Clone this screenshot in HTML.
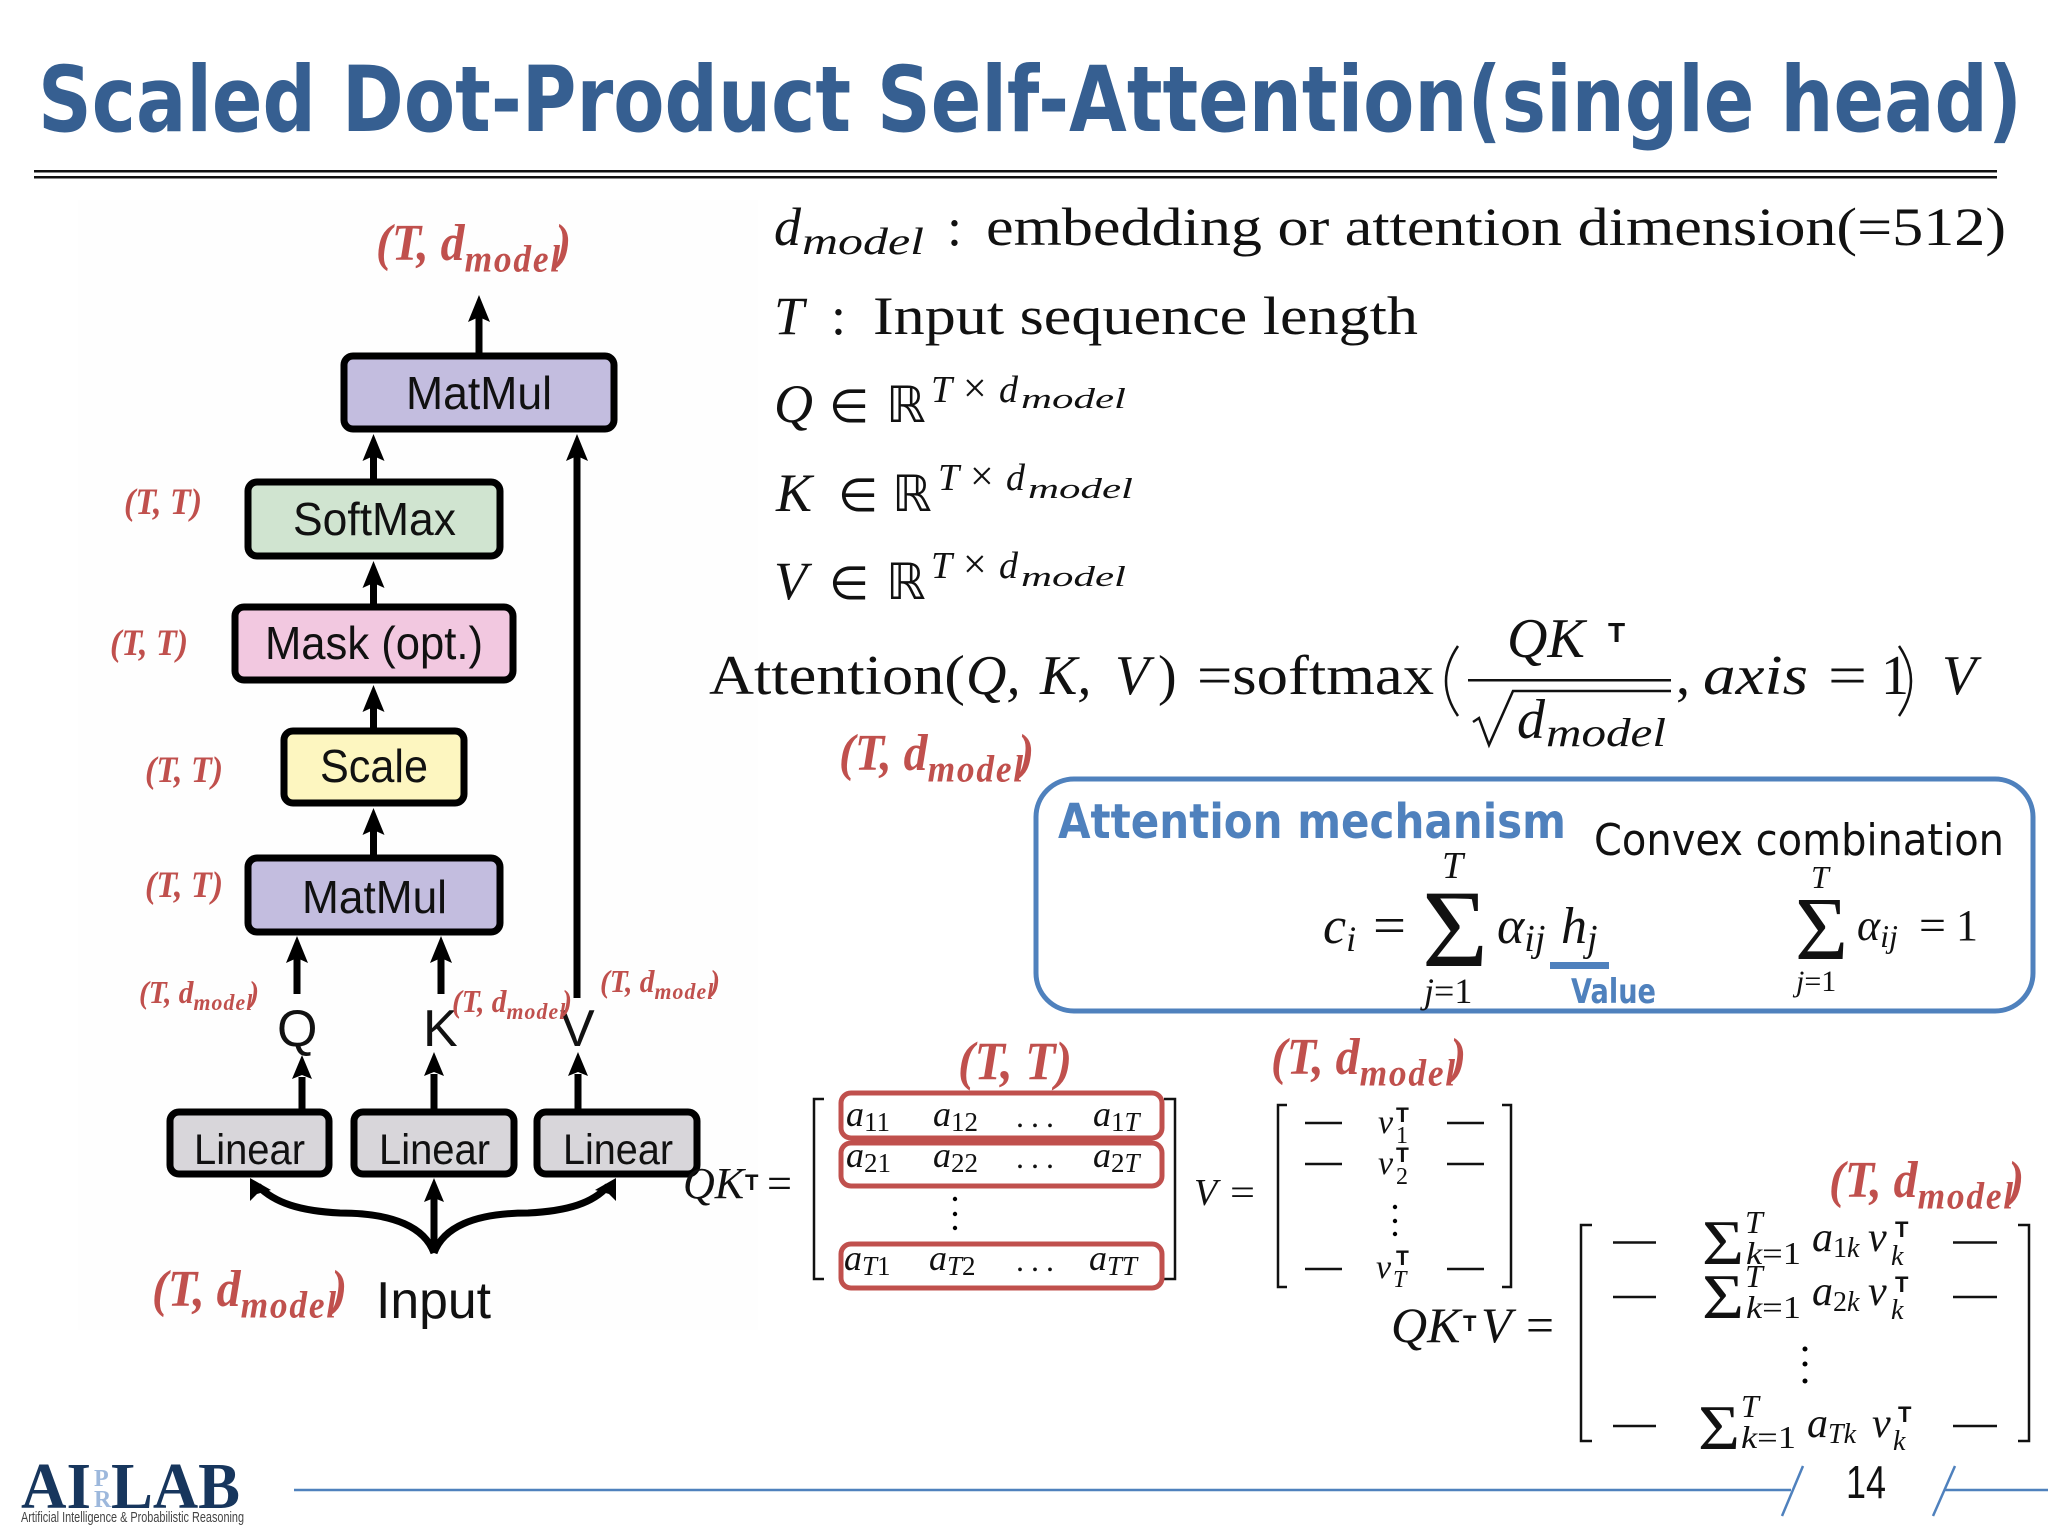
<!DOCTYPE html>
<html>
<head>
<meta charset="utf-8">
<style>
html,body{margin:0;padding:0;background:#fff;width:2048px;height:1536px;overflow:hidden}
svg{display:block}
.m{font-family:"Liberation Serif",serif;font-style:italic;fill:#111}
.t{font-family:"Liberation Serif",serif;fill:#111}
.d{font-family:"Liberation Serif","DejaVu Sans",sans-serif;fill:#111}
.b{font-family:"Liberation Sans",sans-serif;fill:#111}
.tp{font-family:"Liberation Sans",sans-serif;font-weight:bold;fill:#111}
.r{font-family:"Liberation Serif",serif;font-style:italic;font-weight:bold;fill:#c0504d}
.s{font-size:.74em;letter-spacing:.05em}
.box{stroke:#000;stroke-width:7}
.rr{fill:none;stroke:#c0504d;stroke-width:5}
.br{fill:none;stroke:#111;stroke-width:2.5}
.dash{stroke:#111;stroke-width:2.5}
.ar{stroke:#000;stroke-width:7;fill:none}
</style>
</head>
<body>
<svg xmlns="http://www.w3.org/2000/svg" width="2048" height="1536" viewBox="0 0 2048 1536">
<rect width="2048" height="1536" fill="#fff"/>
<rect x="78" y="200" width="680" height="1130" fill="#fefefe"/>

<!-- Title -->
<text x="38" y="131" textLength="1984" lengthAdjust="spacingAndGlyphs" font-size="91" font-family="'DejaVu Sans',sans-serif" font-weight="bold" fill="#365f91">Scaled Dot-Product Self-Attention(single head)</text>
<rect x="34" y="170" width="1963" height="2.5" fill="#111"/>
<rect x="34" y="176" width="1963" height="2.5" fill="#111"/>

<!-- Diagram boxes -->
<rect class="box" x="344" y="356" width="270" height="73" rx="9" fill="#c3bddf"/>
<rect class="box" x="248" y="482" width="252" height="74" rx="9" fill="#d0e4d0"/>
<rect class="box" x="235" y="607" width="278" height="73" rx="9" fill="#f2c8e0"/>
<rect class="box" x="284" y="731" width="180" height="72" rx="9" fill="#fdf6c0"/>
<rect class="box" x="248" y="858" width="252" height="74" rx="9" fill="#c3bddf"/>
<rect class="box" x="170" y="1112" width="159" height="62" rx="9" fill="#d8d6da"/>
<rect class="box" x="354" y="1112" width="160" height="62" rx="9" fill="#d8d6da"/>
<rect class="box" x="537" y="1112" width="160" height="62" rx="9" fill="#d8d6da"/>

<text class="b" x="406" y="409" font-size="46" textLength="146" lengthAdjust="spacingAndGlyphs">MatMul</text>
<text class="b" x="293" y="535" font-size="46" textLength="163" lengthAdjust="spacingAndGlyphs">SoftMax</text>
<text class="b" x="265" y="659" font-size="46" textLength="218" lengthAdjust="spacingAndGlyphs">Mask (opt.)</text>
<text class="b" x="320" y="782" font-size="46" textLength="108" lengthAdjust="spacingAndGlyphs">Scale</text>
<text class="b" x="302" y="913" font-size="46" textLength="145" lengthAdjust="spacingAndGlyphs">MatMul</text>
<text class="b" x="194" y="1164" font-size="43" textLength="111" lengthAdjust="spacingAndGlyphs">Linear</text>
<text class="b" x="379" y="1164" font-size="43" textLength="111" lengthAdjust="spacingAndGlyphs">Linear</text>
<text class="b" x="563" y="1164" font-size="43" textLength="110" lengthAdjust="spacingAndGlyphs">Linear</text>
<text class="b" x="277" y="1046" font-size="52">Q</text>
<text class="b" x="423" y="1046" font-size="52">K</text>
<text class="b" x="560" y="1046" font-size="52">V</text>
<text class="b" x="376" y="1318" font-size="52" textLength="115" lengthAdjust="spacingAndGlyphs">Input</text>

<!-- Arrows -->
<path class="ar" d="M479 353V315M373.500 479V455M373.500 604V582M373.500 728V706M373.500 855V829M577 998V455M297 994V957M441 994V957M302 1109V1077M434 1109V1074M578 1109V1074M434 1253V1198"/>
<path d="M479 295l-11 27 11-5 11 5zM373.500 434l-11 27 11-5 11 5zM373.500 561l-11 27 11-5 11 5zM373.500 685l-11 27 11-5 11 5zM373.500 808l-11 27 11-5 11 5zM577 434l-11 27 11-5 11 5zM297 936l-11 27 11-5 11 5zM441 936l-11 27 11-5 11 5zM302 1055l-10 24 10-4 10 4zM434 1052l-10 24 10-4 10 4zM578 1052l-10 24 10-4 10 4zM434 1178l-10 24 10-4 10 4z"/>
<path class="ar" d="M434 1253C425 1228 395 1213 340 1213C300 1211 275 1203 258 1186M434 1253C443 1228 473 1213 528 1213C568 1211 593 1203 608 1186"/>
<path d="M250 1178L250 1201L257 1194L271 1190zM616 1178L616 1201L609 1194L595 1190z"/>

<!-- Red labels -->
<g transform="translate(376,260) scale(.92,1)"><text class="r" font-size="52">(T, d<tspan class="s" dy=".3em">model</tspan><tspan dy="-.222em" dx="-.14em">)</tspan></text></g>
<g transform="translate(839,770) scale(.92,1)"><text class="r" font-size="52">(T, d<tspan class="s" dy=".3em">model</tspan><tspan dy="-.222em" dx="-.14em">)</tspan></text></g>
<g transform="translate(152,1306) scale(.92,1)"><text class="r" font-size="52">(T, d<tspan class="s" dy=".3em">model</tspan><tspan dy="-.222em" dx="-.14em">)</tspan></text></g>
<g transform="translate(1271,1074) scale(.92,1)"><text class="r" font-size="52">(T, d<tspan class="s" dy=".3em">model</tspan><tspan dy="-.222em" dx="-.14em">)</tspan></text></g>
<g transform="translate(1829,1197) scale(.92,1)"><text class="r" font-size="52">(T, d<tspan class="s" dy=".3em">model</tspan><tspan dy="-.222em" dx="-.14em">)</tspan></text></g>
<g transform="translate(139,1003) scale(.92,1)"><text class="r" font-size="32">(T, d<tspan class="s" dy=".3em">model</tspan><tspan dy="-.222em" dx="-.14em">)</tspan></text></g>
<g transform="translate(452,1012) scale(.92,1)"><text class="r" font-size="32">(T, d<tspan class="s" dy=".3em">model</tspan><tspan dy="-.222em" dx="-.14em">)</tspan></text></g>
<g transform="translate(600,992) scale(.92,1)"><text class="r" font-size="32">(T, d<tspan class="s" dy=".3em">model</tspan><tspan dy="-.222em" dx="-.14em">)</tspan></text></g>
<g transform="translate(124,514) scale(.92,1)"><text class="r" font-size="37">(T, T)</text></g>
<g transform="translate(110,655) scale(.92,1)"><text class="r" font-size="37">(T, T)</text></g>
<g transform="translate(145,782) scale(.92,1)"><text class="r" font-size="37">(T, T)</text></g>
<g transform="translate(145,897) scale(.92,1)"><text class="r" font-size="37">(T, T)</text></g>
<g transform="translate(958,1079) scale(.92,1)"><text class="r" font-size="54">(T, T)</text></g>

<!-- Definitions -->
<text class="m" x="774" y="245" font-size="54">d</text>
<text class="m" x="802" y="254" font-size="38" textLength="122" lengthAdjust="spacingAndGlyphs">model</text>
<text class="t" x="947" y="245" font-size="54">:</text>
<text class="t" x="986" y="245" font-size="54" textLength="1020" lengthAdjust="spacingAndGlyphs">embedding or attention dimension(=512)</text>
<text class="m" x="774" y="334" font-size="54">T</text>
<text class="t" x="831" y="334" font-size="54">:</text>
<text class="t" x="873" y="334" font-size="54" textLength="545" lengthAdjust="spacingAndGlyphs">Input sequence length</text>

<text class="m" x="774" y="422" font-size="54">Q</text>
<text class="d" x="829" y="422" font-size="46">∈</text>
<text class="d" x="886" y="422" font-size="50">ℝ</text>
<text class="m" x="931" y="402" font-size="38">T</text>
<text class="d" x="963" y="402" font-size="42">×</text>
<text class="m" x="999" y="402" font-size="38">d</text>
<text class="m" x="1021" y="408" font-size="28" textLength="105" lengthAdjust="spacingAndGlyphs">model</text>

<text class="m" x="776" y="511" font-size="54">K</text>
<text class="d" x="838" y="511" font-size="46">∈</text>
<text class="d" x="892" y="511" font-size="50">ℝ</text>
<text class="m" x="938" y="490" font-size="38">T</text>
<text class="d" x="970" y="490" font-size="42">×</text>
<text class="m" x="1006" y="490" font-size="38">d</text>
<text class="m" x="1028" y="498" font-size="28" textLength="105" lengthAdjust="spacingAndGlyphs">model</text>

<text class="m" x="774" y="599" font-size="54">V</text>
<text class="d" x="829" y="599" font-size="46">∈</text>
<text class="d" x="886" y="599" font-size="50">ℝ</text>
<text class="m" x="931" y="578" font-size="38">T</text>
<text class="d" x="963" y="578" font-size="42">×</text>
<text class="m" x="999" y="578" font-size="38">d</text>
<text class="m" x="1021" y="586" font-size="28" textLength="105" lengthAdjust="spacingAndGlyphs">model</text>

<!-- Attention formula -->
<text class="t" x="709" y="694" font-size="56" textLength="256" lengthAdjust="spacingAndGlyphs">Attention(</text>
<text class="m" x="966" y="694" font-size="56">Q,</text>
<text class="m" x="1040" y="694" font-size="56">K,</text>
<text class="m" x="1115" y="694" font-size="56">V</text>
<text class="t" x="1158" y="694" font-size="56">)</text>
<text class="t" x="1197" y="694" font-size="56" textLength="237" lengthAdjust="spacingAndGlyphs">=softmax</text>
<path d="M1458 646Q1434 681 1458 716" fill="none" stroke="#111" stroke-width="2.500"/>
<text class="m" x="1507" y="657" font-size="56">QK</text>
<text class="tp" x="1608" y="642" font-size="28">T</text>
<rect x="1468" y="679" width="203" height="2.500" fill="#111"/>
<path d="M1473 722l6-4 10 27 24-54h158" fill="none" stroke="#111" stroke-width="2.500"/>
<text class="m" x="1517" y="738" font-size="56">d</text>
<text class="m" x="1546" y="746" font-size="40" textLength="120" lengthAdjust="spacingAndGlyphs">model</text>
<text class="t" x="1676" y="694" font-size="56">,</text>
<text class="m" x="1703" y="694" font-size="56" textLength="105" lengthAdjust="spacingAndGlyphs">axis</text>
<text class="t" x="1828" y="694" font-size="56" textLength="39" lengthAdjust="spacingAndGlyphs">=</text>
<text class="t" x="1881" y="694" font-size="56">1</text>
<path d="M1899 646Q1923 681 1899 716" fill="none" stroke="#111" stroke-width="2.500"/>
<text class="m" x="1942" y="694" font-size="56">V</text>

<!-- Blue box -->
<rect x="1036" y="779" width="997" height="232" rx="38" fill="none" stroke="#4f81bd" stroke-width="5"/>
<text x="1058" y="838" font-size="48" font-family="'DejaVu Sans',sans-serif" font-weight="bold" fill="#4f81bd" textLength="508" lengthAdjust="spacingAndGlyphs">Attention mechanism</text>
<text x="1594" y="855" font-size="44" font-family="'DejaVu Sans',sans-serif" fill="#111" textLength="410" lengthAdjust="spacingAndGlyphs">Convex combination</text>
<text class="m" x="1442" y="878" font-size="38">T</text>
<text class="m" x="1323" y="943" font-size="52">c<tspan font-size="36" dy="8">i</tspan></text>
<text class="t" x="1373" y="943" font-size="52" textLength="33" lengthAdjust="spacingAndGlyphs">=</text>
<text class="t" x="1422" y="966" font-size="110" textLength="66" lengthAdjust="spacingAndGlyphs">Σ</text>
<text class="m" x="1497" y="943" font-size="52">α<tspan font-size="38" dy="8">ij</tspan></text>
<text class="m" x="1561" y="943" font-size="52">h<tspan font-size="38" dy="8">j</tspan></text>
<text class="m" x="1424" y="1003" font-size="36">j<tspan class="t" font-style="normal">=1</tspan></text>
<rect x="1550" y="962" width="59" height="7" fill="#4f81bd"/>
<text x="1571" y="1003" font-size="34" font-family="'DejaVu Sans',sans-serif" font-weight="bold" fill="#4f81bd" textLength="85" lengthAdjust="spacingAndGlyphs">Value</text>
<text class="m" x="1811" y="888" font-size="32">T</text>
<text class="t" x="1795" y="959" font-size="90" textLength="53" lengthAdjust="spacingAndGlyphs">Σ</text>
<text class="m" x="1857" y="940" font-size="44">α<tspan font-size="32" dy="7">ij</tspan></text>
<text class="t" x="1919" y="940" font-size="44" textLength="27" lengthAdjust="spacingAndGlyphs">=</text>
<text class="t" x="1956" y="940" font-size="44">1</text>
<text class="m" x="1796" y="991" font-size="30">j<tspan class="t" font-style="normal">=1</tspan></text>

<!-- QK^T matrix -->
<text class="m" x="683" y="1198" font-size="44">QK</text>
<text class="tp" x="745" y="1190" font-size="22">T</text>
<text class="t" x="767" y="1198" font-size="44" textLength="25" lengthAdjust="spacingAndGlyphs">=</text>
<path class="br" d="M824 1099H814V1279H824M1164 1099H1175V1279H1164"/>
<rect class="rr" x="841" y="1093" width="321" height="45" rx="10"/>
<rect class="rr" x="841" y="1143" width="321" height="43" rx="10"/>
<rect class="rr" x="841" y="1244" width="321" height="44" rx="10"/>
<text class="m" x="846" y="1126" font-size="36">a<tspan font-size="27" font-style="normal" dy="5">11</tspan></text>
<text class="m" x="933" y="1126" font-size="36">a<tspan font-size="27" font-style="normal" dy="5">12</tspan></text>
<text class="t" x="1016" y="1127" font-size="32" letter-spacing="7">...</text>
<text class="m" x="1093" y="1126" font-size="36">a<tspan font-size="27" font-style="normal" dy="5">1</tspan><tspan font-size="27">T</tspan></text>
<text class="m" x="846" y="1167" font-size="36">a<tspan font-size="27" font-style="normal" dy="5">21</tspan></text>
<text class="m" x="933" y="1167" font-size="36">a<tspan font-size="27" font-style="normal" dy="5">22</tspan></text>
<text class="t" x="1016" y="1168" font-size="32" letter-spacing="7">...</text>
<text class="m" x="1093" y="1167" font-size="36">a<tspan font-size="27" font-style="normal" dy="5">2</tspan><tspan font-size="27">T</tspan></text>
<circle cx="955" cy="1199" r="2.200"/><circle cx="955" cy="1214" r="2.200"/><circle cx="955" cy="1228" r="2.200"/>
<text class="m" x="844" y="1270" font-size="36">a<tspan font-size="27" dy="5">T</tspan><tspan font-size="27" font-style="normal">1</tspan></text>
<text class="m" x="929" y="1270" font-size="36">a<tspan font-size="27" dy="5">T</tspan><tspan font-size="27" font-style="normal">2</tspan></text>
<text class="t" x="1016" y="1271" font-size="32" letter-spacing="7">...</text>
<text class="m" x="1089" y="1270" font-size="36">a<tspan font-size="27" dy="5">TT</tspan></text>

<!-- V matrix -->
<text class="m" x="1194" y="1205" font-size="38">V</text>
<text class="t" x="1230" y="1205" font-size="38" textLength="25" lengthAdjust="spacingAndGlyphs">=</text>
<path class="br" d="M1287 1105H1278V1287H1287M1502 1105H1511V1287H1502"/>
<path class="dash" d="M1305 1123H1342M1447 1123H1484M1305 1164H1342M1447 1164H1484M1305 1269H1342M1447 1269H1484"/>
<text class="m" x="1378" y="1133" font-size="34">v</text><text class="tp" x="1396" y="1122" font-size="21">T</text><text class="t" x="1396" y="1143" font-size="24">1</text>
<text class="m" x="1378" y="1174" font-size="34">v</text><text class="tp" x="1396" y="1162" font-size="21">T</text><text class="t" x="1396" y="1184" font-size="24">2</text>
<circle cx="1395" cy="1207" r="2.200"/><circle cx="1395" cy="1221" r="2.200"/><circle cx="1395" cy="1234" r="2.200"/>
<text class="m" x="1376" y="1278" font-size="34">v</text><text class="tp" x="1396" y="1265" font-size="21">T</text><text class="m" x="1393" y="1287" font-size="24">T</text>

<!-- Result -->
<text class="m" x="1391" y="1342" font-size="50">QK</text>
<text class="tp" x="1463" y="1331" font-size="22">T</text>
<text class="m" x="1481" y="1342" font-size="50">V</text>
<text class="t" x="1526" y="1342" font-size="50" textLength="28" lengthAdjust="spacingAndGlyphs">=</text>
<path class="br" d="M1592 1225H1581V1441H1592M2018 1225H2029V1441H2018"/>
<path class="dash" d="M1613 1242.500H1656M1953 1242.500H1997M1613 1297H1656M1953 1297H1997M1613 1426H1656M1953 1426H1997"/>

<text class="t" x="1702" y="1264" font-size="64" textLength="42" lengthAdjust="spacingAndGlyphs">Σ</text>
<text class="m" x="1745" y="1233" font-size="32">T</text>
<text class="m" x="1746" y="1264" font-size="32" textLength="55" lengthAdjust="spacingAndGlyphs">k<tspan class="t" font-style="normal">=1</tspan></text>
<text class="m" x="1812" y="1251" font-size="42">a<tspan font-size="28" font-style="normal" dy="6">1</tspan><tspan font-size="28">k</tspan></text>
<text class="m" x="1868" y="1251" font-size="42">v</text>
<text class="tp" x="1895" y="1237" font-size="22">T</text>
<text class="m" x="1891" y="1265" font-size="28">k</text>

<text class="t" x="1702" y="1318" font-size="64" textLength="42" lengthAdjust="spacingAndGlyphs">Σ</text>
<text class="m" x="1745" y="1287" font-size="32">T</text>
<text class="m" x="1746" y="1318" font-size="32" textLength="55" lengthAdjust="spacingAndGlyphs">k<tspan class="t" font-style="normal">=1</tspan></text>
<text class="m" x="1812" y="1305" font-size="42">a<tspan font-size="28" font-style="normal" dy="6">2</tspan><tspan font-size="28">k</tspan></text>
<text class="m" x="1868" y="1305" font-size="42">v</text>
<text class="tp" x="1895" y="1292" font-size="22">T</text>
<text class="m" x="1891" y="1319" font-size="28">k</text>

<circle cx="1805" cy="1349" r="2.500"/><circle cx="1805" cy="1364" r="2.500"/><circle cx="1805" cy="1381" r="2.500"/>

<text class="t" x="1698" y="1449" font-size="64" textLength="42" lengthAdjust="spacingAndGlyphs">Σ</text>
<text class="m" x="1741" y="1417" font-size="32">T</text>
<text class="m" x="1741" y="1448" font-size="32" textLength="55" lengthAdjust="spacingAndGlyphs">k<tspan class="t" font-style="normal">=1</tspan></text>
<text class="m" x="1807" y="1437" font-size="42">a<tspan font-size="28" dy="6">Tk</tspan></text>
<text class="m" x="1872" y="1437" font-size="42">v</text>
<text class="tp" x="1898" y="1422" font-size="22">T</text>
<text class="m" x="1893" y="1450" font-size="28">k</text>

<!-- Footer -->
<path d="M294 1490H1791M1803 1466L1782 1516M1955 1466L1933 1516M1944 1490H2048" fill="none" stroke="#4f81bd" stroke-width="2.500"/>
<text class="b" x="1846" y="1498" font-size="46" textLength="40" lengthAdjust="spacingAndGlyphs">14</text>
<text x="21" y="1508" font-size="66" font-family="'Liberation Serif',serif" font-weight="bold" fill="#17365d" textLength="70" lengthAdjust="spacingAndGlyphs">AI</text>
<text x="94" y="1486" font-size="24" font-family="'Liberation Serif',serif" font-weight="bold" fill="#9db8dc">P</text>
<text x="94" y="1507" font-size="24" font-family="'Liberation Serif',serif" font-weight="bold" fill="#9db8dc">R</text>
<text x="111" y="1508" font-size="66" font-family="'Liberation Serif',serif" font-weight="bold" fill="#17365d" textLength="129" lengthAdjust="spacingAndGlyphs">LAB</text>
<text x="21" y="1522" font-size="15" font-family="'Liberation Sans',sans-serif" fill="#444" textLength="223" lengthAdjust="spacingAndGlyphs">Artificial Intelligence &amp; Probabilistic Reasoning</text>
</svg>
</body>
</html>
